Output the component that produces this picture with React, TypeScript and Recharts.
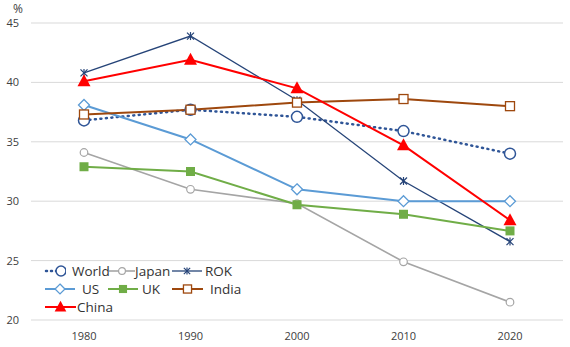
import React from "react";
import {
  LineChart,
  Line,
  CartesianGrid,
  XAxis,
  YAxis,
} from "recharts";

const years = ["1980", "1990", "2000", "2010", "2020"];
const world = [36.8, 37.7, 37.1, 35.9, 34.0];
const japan = [34.1, 31.0, 29.8, 24.9, 21.5];
const rok = [40.8, 43.9, 38.5, 31.7, 26.6];
const us = [38.1, 35.2, 31.0, 30.0, 30.0];
const uk = [32.9, 32.5, 29.7, 28.9, 27.5];
const india = [37.3, 37.7, 38.3, 38.6, 38.0];
const china = [40.1, 41.9, 39.5, 34.7, 28.4];
const yTicks = [20, 25, 30, 35, 40, 45];

const data = years.map((year, i) => ({
  year,
  World: world[i],
  Japan: japan[i],
  ROK: rok[i],
  US: us[i],
  UK: uk[i],
  India: india[i],
  China: china[i],
}));

type MarkerKind = "circle" | "smallCircle" | "star" | "diamond" | "square" | "hollowSquare" | "triangle";

interface SeriesDef {
  key: string;
  color: string;
  width: number;
  dash?: string;
  marker: MarkerKind;
}

const series: SeriesDef[] = [
  { key: "World", color: "#2F5597", width: 2.5, dash: "1 4.5", marker: "circle" },
  { key: "Japan", color: "#A5A5A5", width: 1.6, marker: "smallCircle" },
  { key: "ROK", color: "#264478", width: 1.3, marker: "star" },
  { key: "US", color: "#5B9BD5", width: 2, marker: "diamond" },
  { key: "UK", color: "#70AD47", width: 2, marker: "square" },
  { key: "India", color: "#9E480E", width: 2, marker: "hollowSquare" },
  { key: "China", color: "#FF0000", width: 2, marker: "triangle" },
];

function Marker({ kind, cx, cy, color, scale = 1 }: { kind: MarkerKind; cx: number; cy: number; color: string; scale?: number }) {
  const k = scale;
  switch (kind) {
    case "circle":
      return <circle cx={cx} cy={cy} r={5.5 * k} fill="#fff" stroke={color} strokeWidth={1.5} />;
    case "smallCircle":
      return <circle cx={cx} cy={cy} r={3.8 * k} fill="#fff" stroke={color} strokeWidth={1.2} />;
    case "star":
      return (
        <g stroke={color} strokeWidth={1.2}>
          <line x1={cx - 3.5 * k} y1={cy - 3.5 * k} x2={cx + 3.5 * k} y2={cy + 3.5 * k} />
          <line x1={cx - 3.5 * k} y1={cy + 3.5 * k} x2={cx + 3.5 * k} y2={cy - 3.5 * k} />
          <line x1={cx} y1={cy - 4 * k} x2={cx} y2={cy + 4 * k} />
        </g>
      );
    case "diamond":
      return (
        <polygon
          points={`${cx},${cy - 5.5 * k} ${cx + 5.5 * k},${cy} ${cx},${cy + 5.5 * k} ${cx - 5.5 * k},${cy}`}
          fill="#fff"
          stroke={color}
          strokeWidth={1.3}
        />
      );
    case "square":
      return <rect x={cx - 4.5 * k} y={cy - 4.5 * k} width={9 * k} height={9 * k} fill={color} />;
    case "hollowSquare":
      return <rect x={cx - 4.5 * k} y={cy - 4.5 * k} width={9 * k} height={9 * k} fill="#fff" stroke={color} strokeWidth={1.3} />;
    case "triangle":
      return <polygon points={`${cx},${cy - 7 * k} ${cx + 6.5 * k},${cy + 5 * k} ${cx - 6.5 * k},${cy + 5 * k}`} fill={color} />;
  }
  return null;
}

// legend layout: [row, icon left, icon width, text left]
const legendLayout: Record<string, [number, number, number, number]> = {
  World: [0, 44, 22, 72],
  Japan: [0, 109, 26, 135],
  ROK: [0, 172, 30, 205],
  US: [1, 45, 30, 82],
  UK: [1, 108, 30, 142],
  India: [1, 172, 31, 210],
  China: [2, 45, 31, 77],
};

const ChartLegend = () => (
  <>
    {series.map((s) => {
      const [row, ix, iw, tx] = legendLayout[s.key];
      const cy = 271 + row * 18;
      return (
        <React.Fragment key={s.key}>
          <svg width={iw} height={14} style={{ position: "absolute", left: ix, top: cy - 7 }}>
            <line
              x1={s.dash ? 2 : 0}
              y1={7}
              x2={iw}
              y2={7}
              stroke={s.color}
              strokeWidth={s.width}
              strokeDasharray={s.dash ? "1 4" : undefined}
              strokeLinecap={s.dash ? "round" : undefined}
            />
            <Marker kind={s.marker} cx={s.dash ? iw - 5 : iw / 2} cy={7} color={s.color} scale={0.9} />
          </svg>
          <div
            style={{
              position: "absolute",
              left: tx,
              top: cy - 10,
              fontFamily: "'Open Sans', sans-serif",
              fontSize: 13.5,
              lineHeight: "20px",
              color: "#333",
              whiteSpace: "nowrap",
            }}
          >
            {s.key}
          </div>
        </React.Fragment>
      );
    })}
  </>
);

const App: React.FC = () => {
  return (
    <div style={{ position: "absolute", left: 0, top: 0, width: 570, height: 347, background: "#fff" }}>
      <LineChart width={570} height={347} data={data} margin={{ top: 23, right: 7, bottom: 0, left: 0 }}>
        <CartesianGrid vertical={false} stroke="#D9D9D9" strokeWidth={1} />
        <XAxis
          dataKey="year"
          axisLine={false}
          tickLine={false}
          height={27}
          tickMargin={6}
          padding={{ left: 53, right: 53 }}
          tick={{ fill: "#404040", fontSize: 11, fontFamily: "'Open Sans', sans-serif" }}
        />
        <YAxis
          domain={[20, 45]}
          ticks={yTicks}
          axisLine={false}
          tickLine={false}
          width={31}
          tickMargin={6}
          tick={{ fill: "#404040", fontSize: 11, fontFamily: "'Open Sans', sans-serif" }}
        />
        {series.map((s) => (
          <Line
            key={s.key}
            type="linear"
            dataKey={s.key}
            stroke={s.color}
            strokeWidth={s.width}
            strokeDasharray={s.dash}
            strokeLinecap={s.dash ? "round" : "butt"}
            isAnimationActive={false}
            dot={(p: any) => <Marker key={`${s.key}-${p.index}`} kind={s.marker} cx={p.cx} cy={p.cy} color={s.color} />}
            activeDot={false}
          />
        ))}
      </LineChart>
      <div
        style={{
          position: "absolute",
          left: 13,
          top: 0,
          fontFamily: "'Open Sans', sans-serif",
          fontSize: 12,
          color: "#404040",
        }}
      >
        %
      </div>
      <ChartLegend />
    </div>
  );
};

export default App;
